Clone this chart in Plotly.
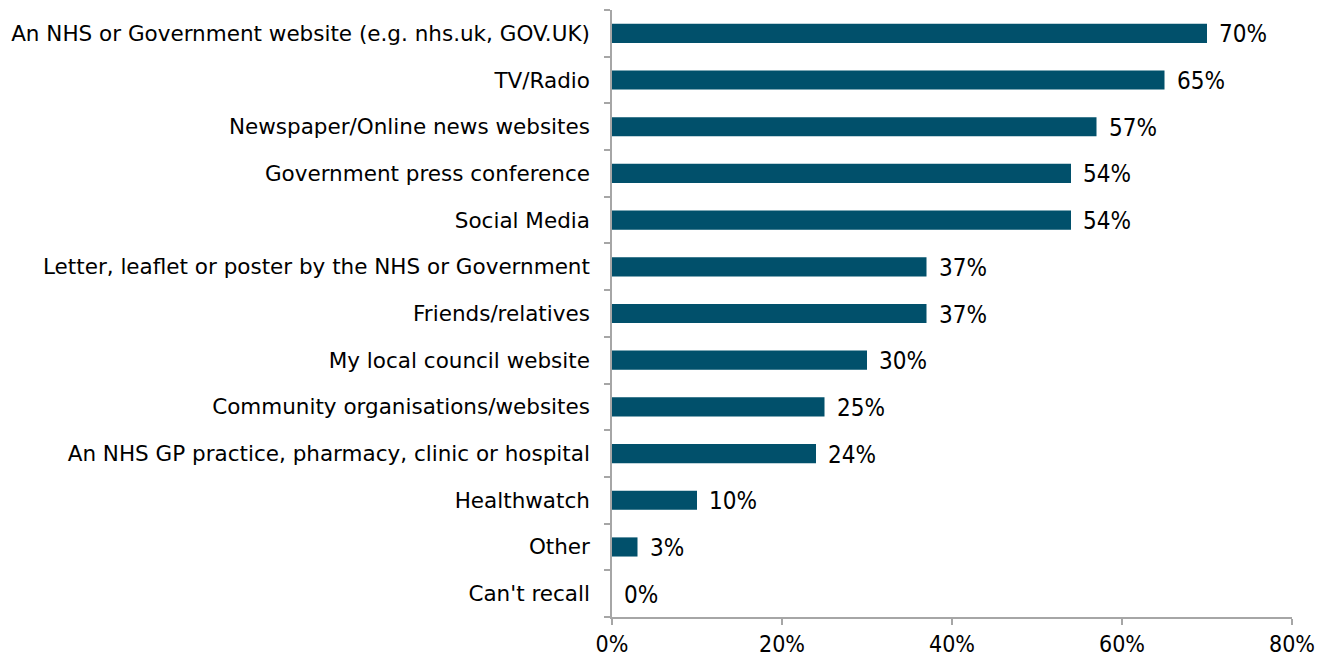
import plotly.graph_objects as go

categories = [
    "An NHS or Government website (e.g. nhs.uk, GOV.UK)",
    "TV/Radio",
    "Newspaper/Online news websites",
    "Government press conference",
    "Social Media",
    "Letter, leaflet or poster by the NHS or Government",
    "Friends/relatives",
    "My local council website",
    "Community organisations/websites",
    "An NHS GP practice, pharmacy, clinic or hospital",
    "Healthwatch",
    "Other",
    "Can't recall",
]
values = [70, 65, 57, 54, 54, 37, 37, 30, 25, 24, 10, 3, 0]
labels = [f"{v}%" for v in values]
x_ticks = [0, 20, 40, 60, 80]
x_tick_labels = ["0%", "20%", "40%", "60%", "80%"]

FONT = "DejaVu Sans"
NUMFONT = "DejaVu Sans Condensed, DejaVu Sans"
BAR = "#01506B"
AXIS = "#A6A6A6"

fig = go.Figure(go.Bar(
    x=values, y=categories, orientation="h",
    marker=dict(color=BAR, line=dict(width=0)),
    hoverinfo="skip",
))

for c, v, t in zip(categories, values, labels):
    fig.add_annotation(x=v, y=c, text=t, showarrow=False, xanchor="left",
                       xshift=10, yshift=-1, font=dict(family=NUMFONT, size=24, color="#000000"))

fig.update_layout(
    width=1322, height=658,
    margin=dict(l=604, r=38, t=2, b=49),
    paper_bgcolor="white", plot_bgcolor="white",
    bargap=0.59, showlegend=False,
    font=dict(family=FONT, size=21.5, color="#000000"),
)
fig.update_xaxes(
    range=[0, 80], tickvals=x_ticks, ticktext=x_tick_labels,
    showgrid=False, zeroline=False, showline=True, linecolor=AXIS, linewidth=1.5,
    ticks="outside", ticklen=6, tickcolor=AXIS, tickwidth=1.5,
    tickfont=dict(family=NUMFONT, size=23, color="#000000"), fixedrange=True,
)
fig.update_yaxes(
    categoryorder="array", categoryarray=categories[::-1],
    showgrid=False, zeroline=False, showline=True, linecolor=AXIS, linewidth=1.5,
    ticks="outside", ticklen=6, tickcolor=AXIS, tickwidth=1.5, tickson="boundaries",
    ticklabelstandoff=16,
    tickfont=dict(family=FONT, size=21.5, color="#000000"), fixedrange=True,
)

fig.write_html("out.html")
